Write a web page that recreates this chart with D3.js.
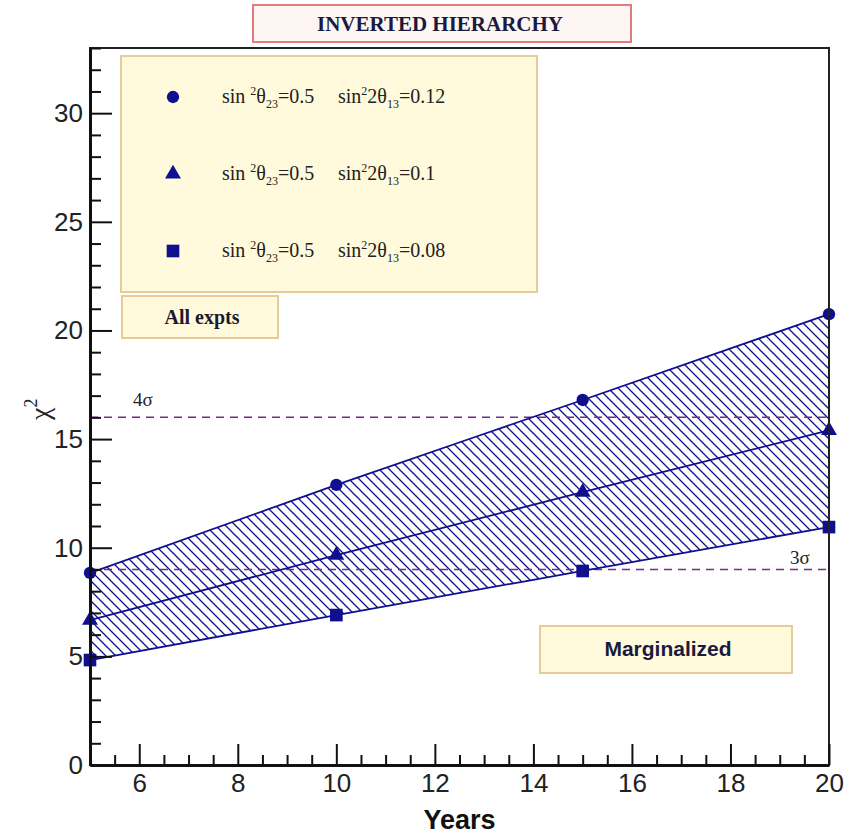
<!DOCTYPE html>
<html><head><meta charset="utf-8">
<script src="https://cdn.jsdelivr.net/npm/d3@7"></script>
<style>body{margin:0;background:#fff}svg{display:block}</style>
</head><body><svg id="chart" width="860" height="835"></svg>
<script>
// Exposure in years and the chi^2 sensitivity for each theta13 choice
const years = [5, 10, 15, 20];
const chi2S13_012 = [8.84, 12.89, 16.80, 20.75];
const chi2S13_010 = [6.67, 9.66, 12.56, 15.40];
const chi2S13_008 = [4.83, 6.90, 8.93, 10.95];
const s13Values = ["0.12", "0.1", "0.08"];
const xMajorTicks = [6, 8, 10, 12, 14, 16, 18, 20];
const yMajorTicks = [0, 5, 10, 15, 20, 25, 30];
const sigmaLevels = [{ label: "4σ", value: 16 }, { label: "3σ", value: 9 }];

const svg = d3.select("#chart");
const frame = { left: 90, right: 829, top: 48, bottom: 765 };
const navy = "#10108f";
const serif = "'Liberation Serif', 'Times New Roman', serif";
const sans = "'Liberation Sans', Arial, sans-serif";

const x = d3.scaleLinear().domain([5, 20]).range([frame.left, frame.right]);
const y = d3.scaleLinear().domain([0, 33]).range([frame.bottom, frame.top]);

// hatch pattern for the band between the extreme theta13 curves
const defs = svg.append("defs");
const pat = defs.append("pattern").attr("id", "hatch")
  .attr("patternUnits", "userSpaceOnUse").attr("width", 10).attr("height", 10);
pat.append("path").attr("d", "M-3,-3 L13,13 M-3,7 L3,13 M7,-3 L13,3")
  .attr("stroke", navy).attr("stroke-width", 1.3).attr("fill", "none");

const series = [chi2S13_012, chi2S13_010, chi2S13_008];
const curve = d3.curveMonotoneX;

// shaded band
const band = d3.area()
  .x((d, i) => x(years[i]))
  .y0((d, i) => y(chi2S13_008[i]))
  .y1((d, i) => y(chi2S13_012[i]))
  .curve(curve);
svg.append("path").datum(chi2S13_012).attr("d", band)
  .attr("fill", "url(#hatch)").attr("stroke", "none");

// significance reference lines
sigmaLevels.forEach(s => {
  svg.append("line")
    .attr("x1", frame.left).attr("x2", frame.right)
    .attr("y1", y(s.value)).attr("y2", y(s.value))
    .attr("stroke", "#7a2a86").attr("stroke-width", 1.5)
    .attr("stroke-dasharray", "8,6");
});
svg.append("text").attr("x", 133).attr("y", y(16) - 11)
  .attr("font-family", serif).attr("font-size", 19).attr("fill", "#222")
  .text(sigmaLevels[0].label);
svg.append("text").attr("x", 790).attr("y", y(9) - 5)
  .attr("font-family", serif).attr("font-size", 19).attr("fill", "#222")
  .text(sigmaLevels[1].label);

// curves
const line = d3.line().x((d, i) => x(years[i])).y(d => y(d)).curve(curve);
series.forEach(s => {
  svg.append("path").datum(s).attr("d", line)
    .attr("fill", "none").attr("stroke", navy).attr("stroke-width", 1.8);
});

// markers
const shapes = [d3.symbolCircle, d3.symbolTriangle, d3.symbolSquare];
const sizes = [120, 110, 160];
series.forEach((s, k) => {
  svg.append("g").selectAll("path").data(s).join("path")
    .attr("transform", (d, i) => `translate(${x(years[i])},${y(d)})`)
    .attr("d", d3.symbol().type(shapes[k]).size(sizes[k]))
    .attr("fill", navy);
});

// frame
svg.append("rect").attr("x", frame.left).attr("y", frame.top)
  .attr("width", frame.right - frame.left).attr("height", frame.bottom - frame.top)
  .attr("fill", "none").attr("stroke", "#222").attr("stroke-width", 2);

// axes with inward ticks
const yAxis = svg.append("g").attr("transform", `translate(${frame.left},0)`)
  .call(d3.axisLeft(y).tickValues(yMajorTicks).tickSizeInner(-22).tickSizeOuter(0).tickPadding(7));
svg.append("g").attr("transform", `translate(${frame.left},0)`)
  .call(d3.axisLeft(y).tickValues(d3.range(0, 34, 1).filter(v => v % 5 !== 0))
    .tickSizeInner(-11).tickSizeOuter(0).tickFormat(""))
  .select(".domain").remove();
const xAxis = svg.append("g").attr("transform", `translate(0,${frame.bottom})`)
  .call(d3.axisBottom(x).tickValues(xMajorTicks).tickSizeInner(-21).tickSizeOuter(0).tickPadding(9));
svg.append("g").attr("transform", `translate(0,${frame.bottom})`)
  .call(d3.axisBottom(x).tickValues(d3.range(5.5, 20, 0.5).filter(v => v % 2 !== 0))
    .tickSizeInner(-10).tickSizeOuter(0).tickFormat(""))
  .select(".domain").remove();

svg.selectAll(".tick line").attr("stroke", "#111").attr("stroke-width", 2);
[yAxis, xAxis].forEach(a => {
  a.select(".domain").attr("stroke", "#111").attr("stroke-width", 3);
  a.selectAll("text").attr("font-family", sans).attr("font-size", 26).attr("fill", "#222");
});

// axis titles
svg.append("text").attr("x", (frame.left + frame.right) / 2).attr("y", 829)
  .attr("text-anchor", "middle").attr("font-family", sans).attr("font-weight", "bold")
  .attr("font-size", 27).attr("fill", "#111").text("Years");
const yt = svg.append("text").attr("transform", "translate(49,420) rotate(-90)")
  .attr("font-family", serif).attr("font-size", 28).attr("fill", "#222");
yt.append("tspan").text("χ");
yt.append("tspan").attr("dy", -12).attr("font-size", 18).text("2");

// title box
svg.append("rect").attr("x", 253).attr("y", 5).attr("width", 378).attr("height", 37)
  .attr("fill", "#fdf6f3").attr("stroke", "#e07c7c").attr("stroke-width", 2);
svg.append("text").attr("x", 440).attr("y", 31).attr("text-anchor", "middle")
  .attr("font-family", serif).attr("font-weight", "bold").attr("font-size", 21)
  .attr("fill", "#1a1a40").text("INVERTED HIERARCHY");

// legend
const paleFill = "#fffadb", tan = "#e6cd98";
svg.append("rect").attr("x", 121).attr("y", 56).attr("width", 416).attr("height", 236)
  .attr("fill", paleFill).attr("stroke", tan).attr("stroke-width", 2);
const legendY = [97, 174, 251];
s13Values.forEach((v, k) => {
  svg.append("path").attr("transform", `translate(173,${legendY[k]})`)
    .attr("d", d3.symbol().type(shapes[k]).size(sizes[k])).attr("fill", navy);
  const t = svg.append("text").attr("x", 222).attr("y", legendY[k] + 6)
    .attr("font-family", serif).attr("font-size", 20).attr("fill", "#222");
  t.append("tspan").text("sin ");
  t.append("tspan").attr("dy", -8).attr("font-size", 12).text("2");
  t.append("tspan").attr("dy", 8).text("θ");
  t.append("tspan").attr("dy", 5).attr("font-size", 12).text("23");
  t.append("tspan").attr("dy", -5).text("=0.5");
  t.append("tspan").attr("x", 338).text("sin");
  t.append("tspan").attr("dy", -8).attr("font-size", 12).text("2");
  t.append("tspan").attr("dy", 8).text("2θ");
  t.append("tspan").attr("dy", 5).attr("font-size", 12).text("13");
  t.append("tspan").attr("dy", -5).text("=" + v);
});

// annotation boxes
svg.append("rect").attr("x", 122).attr("y", 296).attr("width", 156).attr("height", 42)
  .attr("fill", paleFill).attr("stroke", tan).attr("stroke-width", 2);
svg.append("text").attr("x", 202).attr("y", 324).attr("text-anchor", "middle")
  .attr("font-family", serif).attr("font-weight", "bold").attr("font-size", 20)
  .attr("fill", "#1a1a30").text("All expts");
svg.append("rect").attr("x", 540).attr("y", 626).attr("width", 252).attr("height", 47)
  .attr("fill", paleFill).attr("stroke", tan).attr("stroke-width", 2);
svg.append("text").attr("x", 668).attr("y", 656).attr("text-anchor", "middle")
  .attr("font-family", sans).attr("font-weight", "bold").attr("font-size", 21)
  .attr("fill", "#1a1a40").text("Marginalized");
</script></body></html>
